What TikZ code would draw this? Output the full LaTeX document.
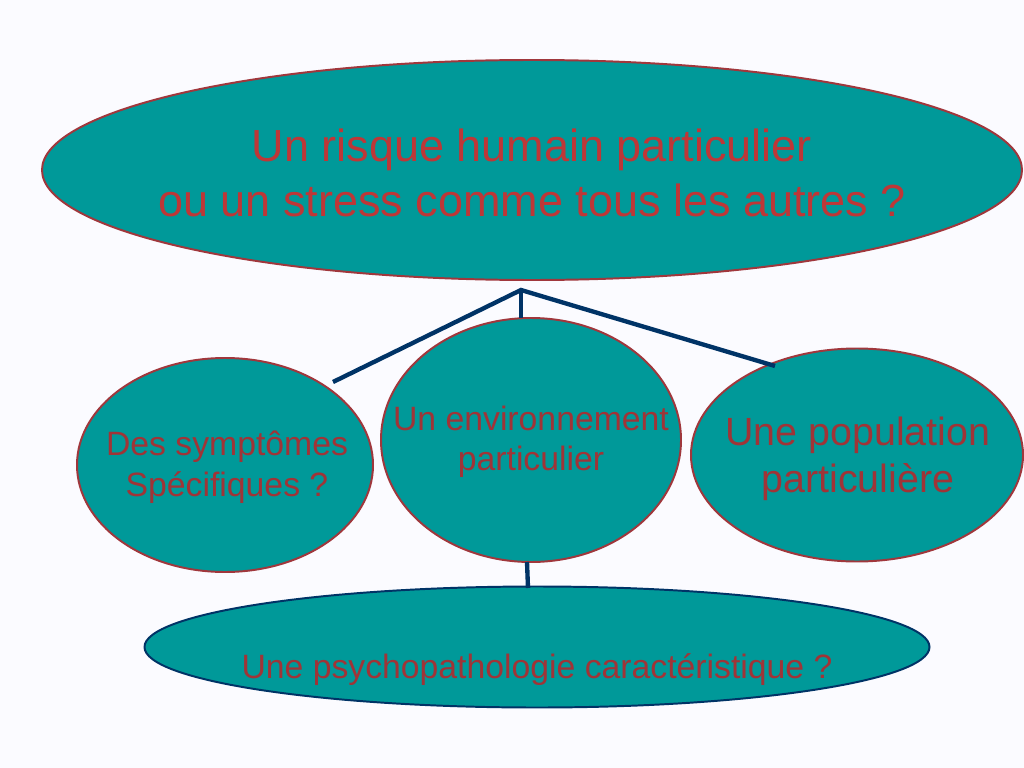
\documentclass[tikz,border=0pt]{standalone}
\usepackage{fontspec}
\setmainfont{Liberation Sans}
\usetikzlibrary{shapes.geometric}
\definecolor{bg}{RGB}{251,251,255}
\definecolor{teal1}{RGB}{0,153,153}
\definecolor{rim}{RGB}{160,55,60}
\definecolor{txtA}{RGB}{190,55,55}
\definecolor{txtB}{RGB}{160,52,55}
\definecolor{navy}{RGB}{0,51,102}
\tikzset{
  bubble/.style={ellipse, fill=teal1, draw=rim, line width=1.4pt, inner sep=0pt},
  label/.style={align=center, inner sep=0pt, text=txtB},
  link/.style={draw=navy, line width=3.1pt},
}
\begin{document}
\begin{tikzpicture}[x=0.025cm, y=-0.025cm]
\fill[bg] (0,0) rectangle (1024,768);
\useasboundingbox (0,0) rectangle (1024,768);

\node[bubble, minimum width=980*0.025cm, minimum height=220*0.025cm] (top) at (532,170) {};
\node[bubble, minimum width=296*0.025cm, minimum height=214*0.025cm] (left) at (225,465) {};
\node[bubble, minimum width=300*0.025cm, minimum height=244*0.025cm] (mid) at (531,440) {};
\node[bubble, minimum width=332*0.025cm, minimum height=213*0.025cm] (right) at (857,455) {};
\node[bubble, draw=navy, minimum width=785*0.025cm, minimum height=121*0.025cm] (bot) at (537,647) {};

\node[label, text=txtA, font=\fontsize{32}{39}\selectfont] (ttop) at (532,173) {Un risque humain particulier\\ou un stress comme tous les autres ?};
\node[label, font=\fontsize{24}{29.2}\selectfont] (tleft) at (227,467) {Des symptômes\\Spécifiques ?};
\node[label, font=\fontsize{24}{28.5}\selectfont] (tmid) at (531,442) {Un environnement\\particulier};
\node[label, font=\fontsize{28}{33.4}\selectfont] (tright) at (858,459) {Une population\\particulière};
\node[label, font=\fontsize{24}{29}\selectfont] (tbot) at (537,670) {Une psychopathologie caractéristique ?};

\coordinate (J) at (521,290);
\coordinate (Lend) at (333,382);
\coordinate (Rend) at (775,366);
\coordinate (Mtop) at (521,318);
\coordinate (Mbot) at (527,562);
\coordinate (Btop) at (528,588);

\draw[link, line join=miter] (Lend) -- (J) -- (Rend);
\draw[link] (J) -- (Mtop);
\draw[link] (Mbot) -- (Btop);
\end{tikzpicture}
\end{document}
